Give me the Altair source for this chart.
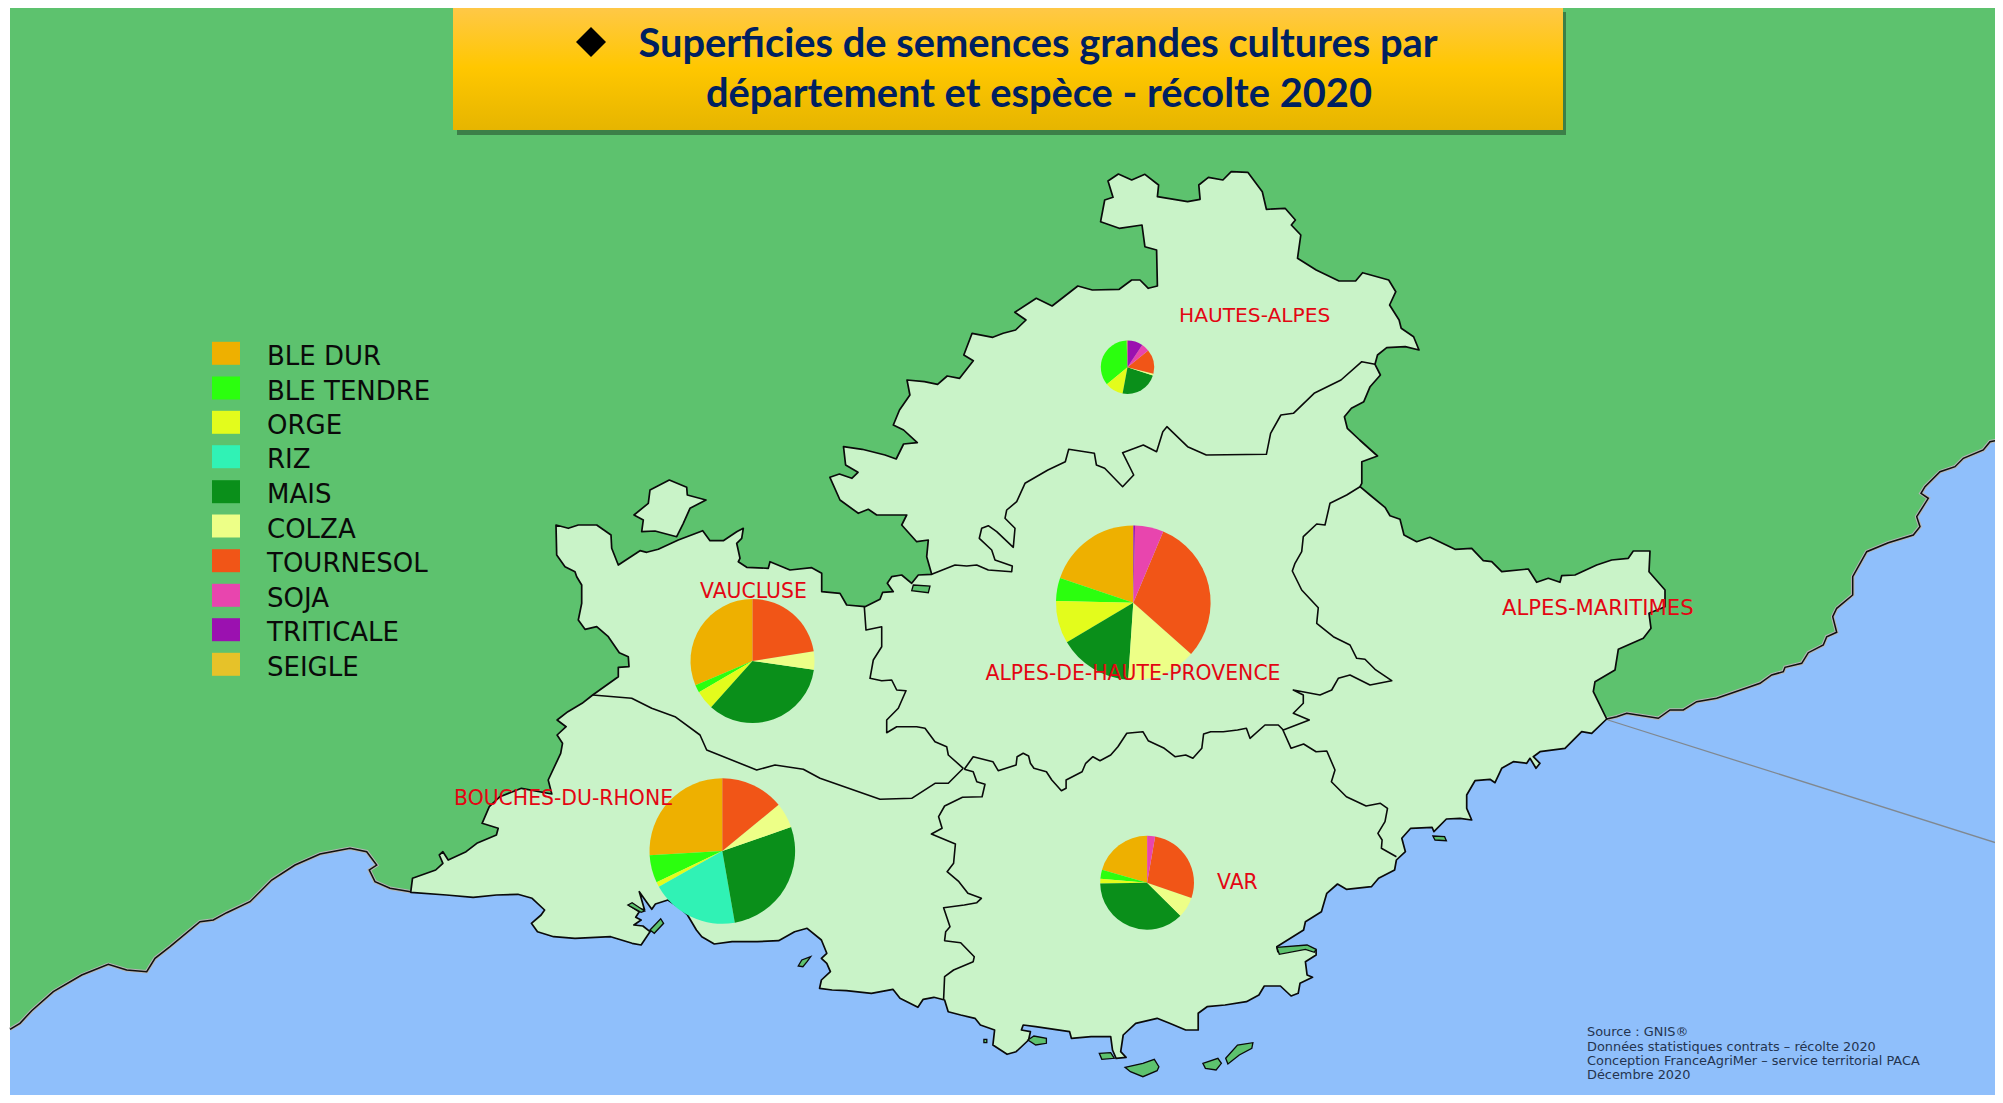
import altair as alt
import pandas as pd

# --- Legend / crops ---------------------------------------------------------
crops = ["BLE DUR", "BLE TENDRE", "ORGE", "RIZ", "MAIS", "COLZA", "TOURNESOL", "SOJA", "TRITICALE", "SEIGLE"]
crop_colors = ["#EEB000", "#2BFF0E", "#E3FC1C", "#30F2B5", "#0A8F1A", "#EDFF87", "#F15517", "#E845AE", "#9B11B0", "#E6C229"]
legend_y = [353.3, 388, 422.3, 456.7, 491.7, 526, 560.7, 595.3, 629.7, 664.3]

# --- Pie values (shares in degrees, legend order) ------------------------------
pie_names = ["VAUCLUSE", "ALPES-DE-HAUTE-PROVENCE", "BOUCHES-DU-RHONE", "VAR", "HAUTES-ALPES"]
pie_cx = [752.5, 1133.3, 722.3, 1147.1, 1127.5]
pie_cy = [661.0, 602.7, 851.0, 882.7, 367.3]
pie_r = [62, 77.3, 72.8, 46.9, 26.7]
vaucluse = [113, 7.3, 17.8, 0, 123.9, 17.1, 80.9, 0, 0, 0]
ahp = [71.4, 17.3, 32.1, 0, 55.4, 52.2, 108.8, 21.5, 1.3, 0]
bdr = [93.4, 22.1, 3.9, 70.5, 99.3, 20.2, 50.6, 0, 0, 0]
var = [73.9, 11.2, 5.8, 0, 134.4, 25.8, 99, 9.9, 0, 0]
hautes_alpes = [2, 127.5, 40, 0, 82.6, 4.1, 53.1, 17.1, 33.6, 0]
pie_values = [vaucluse, ahp, bdr, var, hautes_alpes]

# --- Labels ----------------------------------------------------------------------
dept_labels = ["HAUTES-ALPES", "ALPES-MARITIMES", "ALPES-DE-HAUTE-PROVENCE", "VAUCLUSE", "BOUCHES-DU-RHONE", "VAR"]
dept_x = [1179, 1502, 985.5, 700, 454, 1217]
dept_y = [321.7, 615, 680, 598, 805, 889]
dept_size = [20.2, 21.2, 20.4, 20.4, 20.4, 20.4]
title_lines = ["Superficies de semences grandes cultures par", "département et espèce - récolte 2020"]
title_x = [1038, 1039]
title_y = [57, 107]
source_lines = ["Source : GNIS®", "Données statistiques contrats – récolte 2020",
                "Conception FranceAgriMer – service territorial PACA", "Décembre 2020"]
source_y = [1036, 1050.5, 1065, 1079.3]

Z3 = (800, 120, 2.412, 3)
Z4 = (1250, 420, 3, 3)
Z5 = (530, 460, 3, 3)
Z6 = (400, 680, 2.8, 3)
Z7 = (900, 720, 2.8, 3)
Z8 = (950, 470, 3, 3)
Z11 = (0, 820, 3, 3)
Z12 = (1700, 420, 3, 3)


def P(z, pts):
    return [[round(z[0] + x / z[2], 1), round(z[1] + y / z[3], 1)] for x, y in pts]


outer_north = [(72,1072),(95,1062),(125,1075),(140,1057),(110,1035),(105,980),(150,988),(205,1005),(232,1017),(250,972),(283,968),(250,930),(225,915),(240,870),(265,825),(258,780),(300,785),(332,793),(355,768),(385,775),(418,722),(395,705),(415,640),(465,652),(490,640),(520,630),(545,600),(518,577),(570,535),(608,558),(670,498),(705,510),(770,508),(800,480),(820,480),(840,505),(862,498),(860,390),(832,380),(825,315),(770,325),(725,305),(735,240),(755,232),(743,183),(768,162),(800,180),(832,163),(865,195),(862,230),(935,245),(965,238),(962,195),(985,172),(1020,180),(1040,155),(1080,157),(1115,215),(1125,268),(1170,265),(1195,300),(1185,315),(1208,345),(1200,415),(1245,450),(1300,483),(1340,483),(1357,458),(1420,480),(1437,515),(1422,555),(1445,600),(1450,625),(1480,650),(1493,690),(1460,680),(1415,683),(1393,705),(1387,733),(1400,765),(1375,800),(1360,845),(1330,865),(1313,890),(1320,925),(1350,960),(1393,1008),(1355,1025),(1355,1090)]
outer_east = [(330,200),(360,225),(405,262),(420,287),(450,298),(462,345),(500,365),(540,352),(615,388),(665,385),(700,422),(725,425),(755,455),(835,447),(860,487),(895,475),(930,487),(935,467),(975,465),(1040,435),(1085,420),(1135,415),(1150,393),(1200,393),(1197,455),(1245,510),(1245,560),(1197,580),(1203,625),(1180,655),(1105,688),(1095,750),(1035,785),(1030,815),(1070,897),(1025,940),(995,935),(945,985),(870,995),(850,1010),(870,1030),(858,1045),(840,1015),(830,1030),(790,1025),(755,1045),(735,1088),(720,1078),(675,1082),(650,1125),(650,1165),(665,1200)]
coast_var = [(1568,295),(1530,297),(1495,335),(1490,322),(1430,325),(1405,355),(1415,395),(1390,420),(1385,450),(1340,475),(1320,500),(1250,508),(1225,492),(1195,520),(1180,575),(1135,605),(1130,630),(1055,680),(1058,695),(1140,680),(1165,690),(1165,705),(1135,725),(1140,765),(1155,772),(1120,790),(1115,820),(1095,828),(1065,798),(1020,798),(1005,825),(970,845),(910,855),(860,860),(835,880),(835,930),(800,930),(755,910),(720,895),(660,910),(625,945),(618,995),(633,1012),(605,1015),(595,990),(590,950),(535,950),(480,955),(475,935),(380,920),(345,915),(340,930),(365,935),(360,960),(325,995),(300,1003),(260,975),(265,930),(225,915),(210,895),(170,885),(135,875),(125,840),(95,832),(65,838),(50,862)]
coast_bdr = [(1400,955),(1380,928),(1320,940),(1250,932),(1210,930),(1175,925),(1180,900),(1205,875),(1195,850),(1180,835),(1195,820),(1180,780),(1140,745),(1105,755),(1060,782),(1000,785),(930,785),(880,792),(845,770),(830,750),(805,705),(785,685),(750,660),(715,672),(705,688),(690,665),(670,635),(685,690),(640,675),(670,695),(660,712),(675,720),(655,735),(680,738),(700,755),(735,730),(700,755),(675,795),(650,790),(590,770),(490,775),(430,770),(385,755),(368,730),(395,705),(405,690),(370,655),(330,643),(270,645),(205,652),(130,645),(30,637),(35,595),(100,570),(120,550),(110,525),(120,515),(135,540),(185,515),(215,490),(270,465),(275,445),(230,430),(250,380),(280,350),(340,325),(425,342),(415,300),(450,220),(455,190),(440,165),(465,140),(440,120),(470,95),(510,70)]
west_inland = [(188,705),(265,650),(265,622),(297,620),(295,590),(268,578),(235,530),(200,500),(165,508),(145,480),(155,430),(155,375),(140,350),(135,335),(105,320),(80,285),(78,195),(115,205),(145,195),(200,195),(243,225),(245,265),(265,315),(330,272),(350,277),(385,268),(445,240),(518,212),(540,242),(580,242),(620,215),(640,205),(635,235),(620,250),(630,295),(625,305),(650,322),(715,325),(720,305),(780,330),(845,323),(875,340),(875,395),(930,400),(950,435),(1005,440),(1050,418),(1058,397),(1090,395),(1072,370),(1085,350),(1115,345),(1145,370),(1165,345),(1205,343),(1190,290),(1195,240),(1160,245),(1115,195),(1130,165),(1040,165),(1015,148),(985,160),(930,120)]

enclave = [(312,165),(355,130),(360,90),(418,60),(470,82),(472,105),(528,120),(480,145),(460,190),(440,230),(375,213),(335,215),(340,180)]
green_patch = [(1150,375),(1200,378),(1195,398),(1145,392)]

ha_ahp_a = [(1205,343),(1275,315),(1310,318),(1340,315),(1375,330),(1445,335),(1447,318),(1395,300),(1385,270),(1348,235),(1355,205),(1375,197),(1400,215),(1450,262),(1455,205),(1425,175),(1430,150),(1460,125),(1485,70)]
ha_ahp_b = [(598,1050),(640,1025),(648,988),(710,1000),(715,1035),(735,1045),(778,1100),(805,1065),(778,998),(828,975),(860,995),(875,935),(885,920),(935,980),(980,1005),(1125,1003),(1135,940),(1160,885),(1190,880),(1240,820),(1305,780),(1355,725),(1387,733)]
ahp_am = [(330,200),(290,225),(240,250),(225,315),(200,312),(160,350),(155,395),(135,430),(127,453),(155,510),(205,563),(200,610),(250,650),(300,675),(320,715),(345,718),(375,748),(425,782),(360,795),(300,765),(265,775),(245,810),(210,825),(130,810),(160,825),(160,850),(130,880),(178,900),(100,930),(85,915),(45,915),(0,955)]
ahp_var = [(980,55),(970,25),(945,30),(905,35),(870,35),(850,42),(845,85),(820,115),(800,105),(770,110),(740,85),(695,62),(680,35),(635,40),(610,80),(590,105),(560,122),(540,110),(520,130),(510,155),(465,180),(465,205),(452,212),(425,180),(410,155),(375,145),(365,130),(360,108),(345,100),(328,110),(325,135),(275,152),(260,125),(205,110),(180,148)]
vau_ahp = [(1300,925),(1255,885),(1250,860),(1215,845),(1185,805),(1160,800),(1100,800),(1070,818),(1070,780),(1105,745),(1128,692),(1100,690),(1085,660),(1055,662),(1020,655),(1030,600),(1055,560),(1055,500),(1008,510),(1003,440)]
vau_bdr = [(188,705),(305,715),(365,745),(435,770),(510,825),(530,870),(680,930),(735,915),(820,928),(870,955),(1050,1018),(1145,1015),(1215,970),(1255,970),(1300,925)]
var_bdr = [(180,148),(205,155),(215,185),(238,193),(230,230),(175,232),(125,258),(108,290),(118,325),(88,342),(155,372),(150,430),(132,455),(165,485),(190,520),(228,535),(215,548),(180,555),(122,563),(140,620),(128,635),(125,662),(170,668),(208,710),(205,725),(150,750),(125,770),(122,838)]
am_var = [(1072,30),(1095,85),(1130,72),(1165,95),(1195,93),(1218,150),(1208,185),(1250,230),(1305,258),(1345,250),(1365,265),(1358,305),(1338,340),(1350,360),(1348,385),(1390,410)]

islands_z7 = [
    [(358,960),(375,948),(410,955),(410,970),(380,975)],
    [(630,1042),(680,1030),(712,1018),(725,1040),(720,1052),(680,1070),(645,1055)],
    [(848,1030),(890,1015),(900,1030),(885,1050),(855,1045)],
    [(912,1015),(945,975),(988,968),(985,985),(950,1005),(918,1032)],
    [(1492,348),(1525,350),(1530,362),(1498,360)],
    [(558,1000),(590,998),(600,1015),(565,1018)],
    [(235,958),(243,958),(243,968),(235,968)],
]
islands_z6 = [[(1115,858),(1125,840),(1150,830),(1140,845),(1128,860)]]
slivers_z6 = [
    [(638,675),(650,668),(685,693),(675,697)],
    [(700,750),(730,716),(738,730),(712,760)],
]
islet_z7 = [(1055,682),(1140,675),(1165,688),(1160,697),(1135,688),(1062,703)]

west_coast = [(30,628),(60,610),(95,572),(160,515),(245,465),(325,433),(380,450),(440,455),(465,415),(510,380),(600,305),(640,300),(680,278),(750,245),(815,180),(885,135),(960,102),(1050,85),(1100,95),(1130,135),(1108,150),(1125,185),(1170,205),(1232,215)]
east_coast_z4 = [(1070,897),(1100,890),(1130,880),(1225,895),(1260,870),(1300,870),(1340,845),(1400,835),(1500,800)]
east_coast_z12 = [(150,800),(180,790),(215,765),(250,755),(255,742),(305,730),(325,698),(370,675),(380,650),(410,637),(398,590),(410,565),(458,525),(458,470),(500,395),(565,368),(640,345),(660,320),(650,290),(685,235),(663,220),(675,200),(720,155),(765,140),(790,115),(850,90),(870,65),(909,58)]

land_ring = (P(Z3, outer_north) + P(Z4, outer_east) + P(Z7, coast_var) + P(Z6, coast_bdr) + P(Z5, west_inland))
W_COAST = P(Z11, west_coast)
E_COAST = P(Z4, east_coast_z4) + P(Z12, east_coast_z12)
sea_ring = W_COAST + E_COAST + [[2003, 1103], [10, 1103]]
green_ring = [[10, 5], [2003, 5], [2003, 1103], [10, 1103]]
maritime_limit = [[1608, 720], [2003, 845]]
borders = [P(Z5, ha_ahp_a) + P(Z3, ha_ahp_b), P(Z4, ahp_am) + P(Z7, ahp_var), P(Z5, vau_ahp), P(Z5, vau_bdr), P(Z7, var_bdr), P(Z7, am_var)]
green_small = [P(Z5, green_patch)] + [P(Z7, i) for i in islands_z7] + [P(Z6, i) for i in islands_z6] + [P(Z6, i) for i in slivers_z6] + [P(Z7, islet_z7)]

W, H = 1987, 1087
proj = alt.Projection(type="identity", scale=1, translate=[-8, -8])
xs = alt.Scale(domain=[8, 8 + W], nice=False, zero=False)
ys = alt.Scale(domain=[8 + H, 8], nice=False, zero=False)


def poly(rings):
    feats = [{"type": "Feature", "properties": {}, "geometry": {"type": "Polygon", "coordinates": [r + [r[0]]]}} for r in rings]
    return alt.Chart(alt.InlineData(values=feats))


def lines(paths):
    feats = [{"type": "Feature", "properties": {}, "geometry": {"type": "LineString", "coordinates": p}} for p in paths]
    return alt.Chart(alt.InlineData(values=feats))


layers = [
    poly([green_ring]).mark_geoshape(fill="#5DC26E", stroke=None, strokeWidth=0).project(**proj.to_dict()),
    poly([sea_ring]).mark_geoshape(fill="#8FBFFB", stroke=None, strokeWidth=0).project(**proj.to_dict()),
    lines([W_COAST, E_COAST]).mark_geoshape(filled=False, stroke="#B5B5B5", strokeWidth=3.6).project(**proj.to_dict()),
    lines([W_COAST, E_COAST]).mark_geoshape(filled=False, stroke="#101010", strokeWidth=1.5).project(**proj.to_dict()),
    lines([maritime_limit]).mark_geoshape(filled=False, stroke="#808890", strokeWidth=1.3).project(**proj.to_dict()),
    poly([land_ring, P(Z5, enclave)]).mark_geoshape(fill="#C9F3C8", stroke="#0A0A0A", strokeWidth=1.7, strokeJoin="round").project(**proj.to_dict()),
    lines(borders).mark_geoshape(filled=False, stroke="#0A0A0A", strokeWidth=1.6, strokeJoin="round").project(**proj.to_dict()),
    poly(green_small).mark_geoshape(fill="#5DC26E", stroke="#0A0A0A", strokeWidth=1.3).project(**proj.to_dict()),
]

x_ch = lambda f: alt.X(f, scale=xs, axis=None)
y_ch = lambda f: alt.Y(f, scale=ys, axis=None)

# Title box
shadow_df = pd.DataFrame({"x": [457], "x2": [1566], "y": [12], "y2": [135]})
box_df = pd.DataFrame({"x": [453], "x2": [1563], "y": [5], "y2": [130]})
layers.append(alt.Chart(shadow_df).mark_rect(color="#26512F", opacity=0.6).encode(x=x_ch("x:Q"), x2="x2:Q", y=y_ch("y:Q"), y2="y2:Q"))
layers.append(alt.Chart(box_df).mark_rect(color=alt.Gradient(gradient="linear", x1=0, x2=0, y1=0, y2=1, stops=[
    alt.GradientStop(color="#FFC84A", offset=0), alt.GradientStop(color="#FFC700", offset=0.5), alt.GradientStop(color="#E6B500", offset=1)])).encode(
    x=x_ch("x:Q"), x2="x2:Q", y=y_ch("y:Q"), y2="y2:Q"))
layers.append(alt.Chart(pd.DataFrame({"x": [591], "y": [42]})).mark_point(shape="diamond", filled=True, color="black", size=900, opacity=1).encode(x=x_ch("x:Q"), y=y_ch("y:Q")))
layers.append(alt.Chart(pd.DataFrame({"x": title_x, "y": title_y, "t": title_lines})).mark_text(
    font="Lato", fontWeight="bold", fontSize=39.8, color="#002060", align="center", baseline="alphabetic").encode(
    x=x_ch("x:Q"), y=y_ch("y:Q"), text="t:N"))

# Legend
layers.append(alt.Chart(pd.DataFrame({"crop": crops, "y": legend_y, "x": [226] * len(crops)})).mark_rect(width=28, height=23).encode(
    x=x_ch("x:Q"), y=y_ch("y:Q"),
    color=alt.Color("crop:N", scale=alt.Scale(domain=crops, range=crop_colors), legend=None)))
layers.append(alt.Chart(pd.DataFrame({"crop": crops, "y": [v + 11.5 for v in legend_y], "x": [267] * len(crops)})).mark_text(
    font="DejaVu Sans", fontSize=26, color="#0A0A0A", align="left", baseline="alphabetic").encode(
    x=x_ch("x:Q"), y=y_ch("y:Q"), text="crop:N"))

# Pies
for name, cx, cy, r, vals in zip(pie_names, pie_cx, pie_cy, pie_r, pie_values):
    df = pd.DataFrame({"crop": crops, "idx": range(len(crops)), "value": vals, "cx": cx, "cy": cy})
    df = df[df.value > 0]
    layers.append(alt.Chart(df).mark_arc(radius=r, innerRadius=0).encode(
        x=x_ch("cx:Q"), y=y_ch("cy:Q"),
        theta=alt.Theta("value:Q", stack="normalize", scale=alt.Scale(domain=[0, 1], range=[6.28318, 0])),
        order=alt.Order("idx:Q"),
        color=alt.Color("crop:N", scale=alt.Scale(domain=crops, range=crop_colors), legend=None)))

# Department labels
layers.append(alt.Chart(pd.DataFrame({"t": dept_labels, "x": dept_x, "y": dept_y, "s": dept_size})).mark_text(
    font="DejaVu Sans", color="#E30613", align="left", baseline="alphabetic").encode(
    x=x_ch("x:Q"), y=y_ch("y:Q"), text="t:N", size=alt.Size("s:Q", scale=None, legend=None)))

# Source block
layers.append(alt.Chart(pd.DataFrame({"t": source_lines, "y": source_y, "x": [1587] * 4})).mark_text(
    font="DejaVu Sans", fontSize=12.9, color="#24344F", align="left", baseline="alphabetic").encode(
    x=x_ch("x:Q"), y=y_ch("y:Q"), text="t:N"))

chart = alt.layer(*layers).properties(width=W, height=H, background="white", padding=0,
    autosize=alt.AutoSizeParams(type="none")).configure_view(stroke=None)
chart.save("out.html", embed_options={"renderer": "svg", "actions": False})
